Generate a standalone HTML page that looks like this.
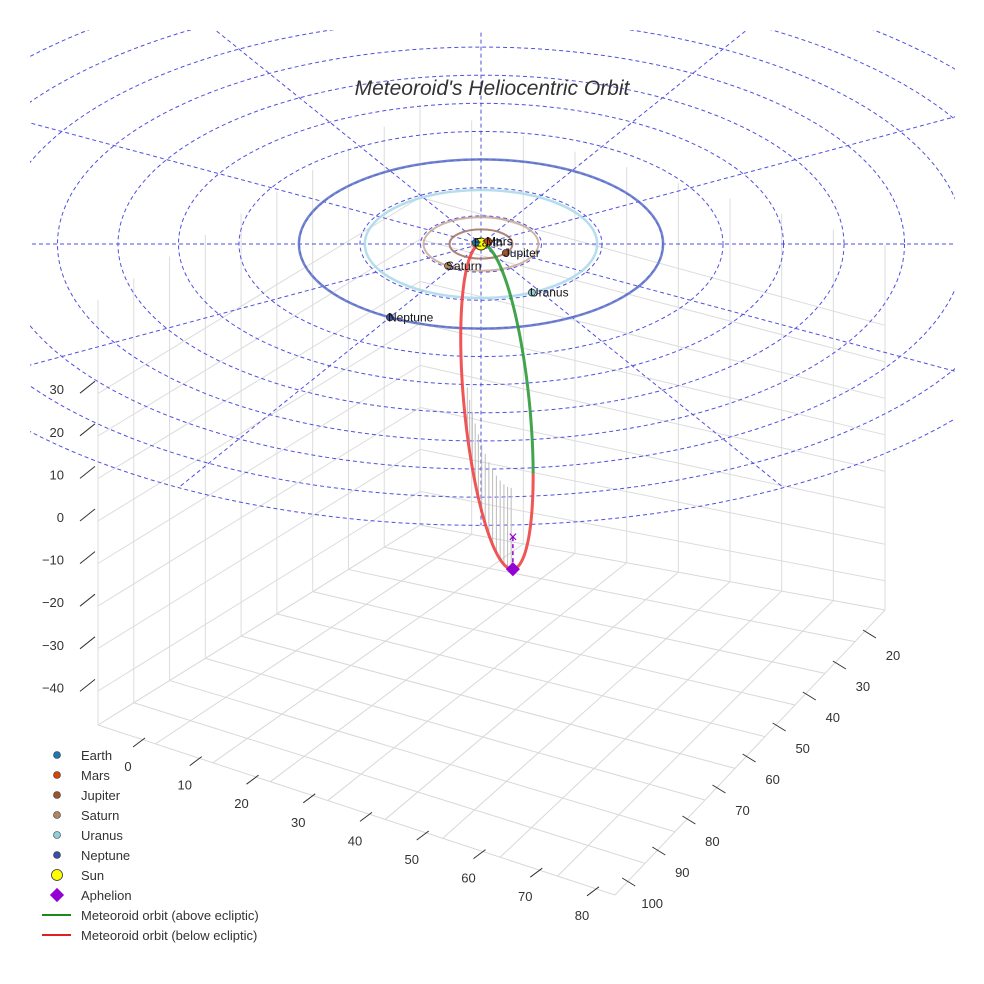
<!DOCTYPE html>
<html><head><meta charset="utf-8">
<style>
html,body{margin:0;padding:0;background:#fff;}
svg{display:block;font-family:"Liberation Sans",sans-serif;}
</style></head>
<body>
<svg id="chart" width="984" height="984" viewBox="0 0 984 984" xmlns="http://www.w3.org/2000/svg">
<defs><clipPath id="clipTop"><rect x="30" y="30" width="925" height="954"/></clipPath></defs>
<g id="box"></g>
<g id="polar" clip-path="url(#clipTop)"></g>
<g id="orbits"></g>
<g id="met"></g>
<g id="planets"></g>
<g id="ticks"></g>
<text x="492" y="95" text-anchor="middle" font-size="21" font-style="italic" fill="#333">Meteoroid's Heliocentric Orbit</text>
<g id="legend"></g>
</svg>
<script>
// ---- data ----
const planetNames = ["Earth","Mars","Jupiter","Saturn","Uranus","Neptune"];
const planetRadiiAU = [1.0,1.52,5.2,9.5,19.2,30.1];
const planetAnglesDeg = [150,40,-38,235,-64,240];
const planetColors = ["#1f77b4","#d9420b","#a0522d","#b08560","#8fd0e0","#3a4fa6"];
const orbitColors = ["#c8a080","#c08060","#a07060","#c8a890","#a8d8ea","#5a70c8"];
const polarRings = [10,20,30,40,50,60,70,80,90,100];
const polarSpokesDeg = [0,30,60,90,120,150];
const zTicks = [30,20,10,0,-10,-20,-30,-40];
const xTicks = [0,10,20,30,40,50,60,70,80];
const yTicks = [20,30,40,50,60,70,80,90,100];
const meteorAphelionAU = 54;
const meteorMinorAU = 5.4;
const meteorTiltDeg = 5.6;

// ---- projection ----
const CX=481, CY=244, SX=6.05, RY=0.465;
function px(r,a){return CX + SX*r*Math.cos(a*Math.PI/180);}
function py(r,a){return CY - SX*RY*r*Math.sin(a*Math.PI/180);}
const NS="http://www.w3.org/2000/svg";
function mk(tag,attrs,parent){const e=document.createElementNS(NS,tag);for(const k in attrs)e.setAttribute(k,attrs[k]);parent.appendChild(e);return e;}

// ---- axes box ----
const box=document.getElementById('box');
const L=[98,725],F=[615,895],R=[885,610],B=[420,525];
const Lt=[98,300],Bt=[420,105],Rt=[885,245];
function lerp(a,b,t){return [a[0]+(b[0]-a[0])*t,a[1]+(b[1]-a[1])*t];}
function line(p,q,col,w,parent,name){const e=mk('line',{x1:p[0],y1:p[1],x2:q[0],y2:q[1],stroke:col,'stroke-width':w},parent);return e;}
for(let i=0;i<=9;i++){const t=i/9;
  line(lerp(L,F,t),lerp(B,R,t),'#d8d8d8',1,box,'floor-grid-line');
  line(lerp(L,B,t),lerp(F,R,t),'#d8d8d8',1,box,'floor-grid-line');
  line(lerp(L,B,t),lerp(Lt,Bt,t),'#dcdcdc',1,box,'wall-grid-line');
  line(lerp(B,R,t),lerp(Bt,Rt,t),'#dcdcdc',1,box,'wall-grid-line');
}
const zMin=-48,zMax=52;
for(const z of zTicks){const t=(z-zMin)/(zMax-zMin);
  line(lerp(L,Lt,t),lerp(B,Bt,t),'#dcdcdc',1,box,'z-grid-line');
  line(lerp(B,Bt,t),lerp(R,Rt,t),'#dcdcdc',1,box,'z-grid-line');
}

// ---- polar grid ----
const polar=document.getElementById('polar');
for(const r of polarRings){const e=mk('ellipse',{cx:CX,cy:CY,rx:SX*r,ry:SX*RY*r,fill:'none',stroke:'#5050e0','stroke-width':1,'stroke-dasharray':'4,3'},polar);
  }
for(const a of polarSpokesDeg){const rr=100;
  const e=mk('line',{x1:px(rr,a),y1:py(rr,a),x2:px(rr,a+180),y2:py(rr,a+180),stroke:'#5050e0','stroke-width':1,'stroke-dasharray':'4,3'},polar);
  }

// ---- planet orbits ----
const orbits=document.getElementById('orbits');
planetRadiiAU.forEach((r,i)=>{const e=mk('ellipse',{cx:CX,cy:CY,rx:SX*r,ry:SX*RY*r,fill:'none',stroke:orbitColors[i],'stroke-width':i>=4?2.5:2,opacity:0.85},orbits);
  });

// ---- meteoroid orbit ----
const met=document.getElementById('met');
const a=meteorAphelionAU*SX/2, b=meteorMinorAU*SX;
const th=meteorTiltDeg*Math.PI/180;
const ux=Math.sin(th), uy=Math.cos(th);
const vx=-uy, vy=ux;
const mcx=CX+ux*a, mcy=CY+uy*a;
function mp(t){return [mcx - a*Math.cos(t)*ux + b*Math.sin(t)*vx, mcy - a*Math.cos(t)*uy + b*Math.sin(t)*vy];}
const split=1.36*Math.PI;
let red=[],green=[];
for(let k=0;k<=240;k++){const t=k/240*2*Math.PI;const p=mp(t);
  if(t<=split) red.push(p); if(t>=split-0.01) green.push(p);}
for(let k=66;k<=118;k+=4){const t=k/240*2*Math.PI;const p=mp(t);const h=(p[1]-CY)*0.25;
  const e=mk('line',{x1:p[0],y1:p[1],x2:p[0],y2:p[1]-h,stroke:'#bbb','stroke-width':1},met);}
const rl=mk('polyline',{points:red.map(p=>p.join(',')).join(' '),fill:'none',stroke:'#ee4444','stroke-width':3,opacity:0.9},met);

const gl=mk('polyline',{points:green.map(p=>p.join(',')).join(' '),fill:'none',stroke:'#2e9a3a','stroke-width':3,opacity:0.9},met);

const ap=mp(Math.PI);
const dl=mk('line',{x1:ap[0],y1:ap[1],x2:ap[0],y2:ap[1]-32,stroke:'#9400d3','stroke-width':1.5,'stroke-dasharray':'4,3'},met);

const xm=mk('text',{x:ap[0],y:ap[1]-27,'text-anchor':'middle',fill:'#9400d3','font-size':16},met);xm.textContent='×';

const dm=mk('rect',{x:ap[0]-5,y:ap[1]-5,width:10,height:10,fill:'#9400d3',transform:`rotate(45 ${ap[0]} ${ap[1]})`},met);


// ---- planets ----
const pl=document.getElementById('planets');
const sun=mk('circle',{cx:CX,cy:CY,r:6,fill:'#ffff00',stroke:'#333','stroke-width':1},pl);

planetRadiiAU.forEach((r,i)=>{const x=px(r,planetAnglesDeg[i]),y=py(r,planetAnglesDeg[i]);
  const c=mk('circle',{cx:x,cy:y,r:3.5,fill:planetColors[i],stroke:'#333','stroke-width':0.8},pl);
  
  const t=mk('text',{x:x-2,y:y+4,'font-size':12,fill:'#111'},pl);t.textContent=planetNames[i];
  });

// ---- ticks ----
const tk=document.getElementById('ticks');
zTicks.forEach(z=>{const y=517-4.26*z;
  line([80,y+4],[95,y-8],'#333',1,tk,'z-tick');
  const t=mk('text',{x:64,y:y+5,'text-anchor':'end','font-size':13,fill:'#333'},tk);t.textContent=z.toString().replace('-','−');
  });
xTicks.forEach(v=>{const x=128+5.675*v,y=766+1.86*v;
  line([x+5,y-19],[x+17,y-28],'#333',1,tk,'x-tick');
  const t=mk('text',{x:x,y:y+5,'text-anchor':'middle','font-size':13,fill:'#333'},tk);t.textContent=v;
  });
yTicks.forEach(v=>{const x=893-3.01*(v-20),y=655+3.1*(v-20);
  line([x-30,y-25],[x-17,y-17],'#333',1,tk,'y-tick');
  const t=mk('text',{x:x,y:y+5,'text-anchor':'middle','font-size':13,fill:'#333'},tk);t.textContent=v;
  });

// ---- legend ----
const lg=document.getElementById('legend');
const legendLabels=["Earth","Mars","Jupiter","Saturn","Uranus","Neptune","Sun","Aphelion","Meteoroid orbit (above ecliptic)","Meteoroid orbit (below ecliptic)"];
legendLabels.forEach((lab,i)=>{const y=755+20*i;const g=mk('g',{},lg);
  
  if(i<6) mk('circle',{cx:57,cy:y,r:3.5,fill:planetColors[i],stroke:'#333','stroke-width':0.6},g);
  else if(i==6) mk('circle',{cx:57,cy:y,r:5.5,fill:'#ffff00',stroke:'#333','stroke-width':0.8},g);
  else if(i==7) mk('rect',{x:52,y:y-5,width:10,height:10,fill:'#9400d3',transform:`rotate(45 57 ${y})`},g);
  else mk('line',{x1:42,y1:y,x2:71,y2:y,stroke:i==8?'#1a8a1a':'#e02020','stroke-width':2},g);
  const t=mk('text',{x:81,y:y+5,'font-size':13,fill:'#333'},g);t.textContent=lab;});
</script>
</body></html>
